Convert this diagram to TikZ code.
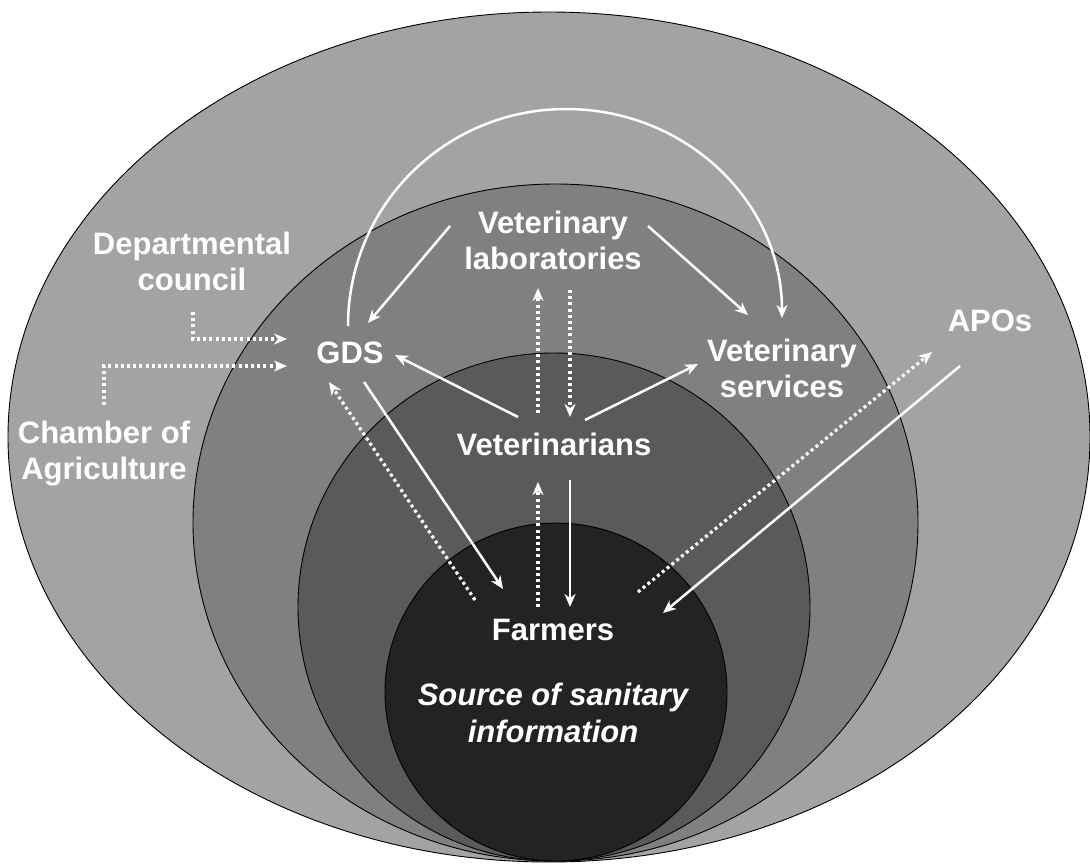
\documentclass[tikz,border=0pt]{standalone}
\usepackage{fontspec}
\setmainfont{Liberation Sans}
\usetikzlibrary{arrows.meta}
\definecolor{ringA}{RGB}{163,163,163}
\definecolor{ringB}{RGB}{128,128,128}
\definecolor{ringC}{RGB}{90,90,90}
\definecolor{ringD}{RGB}{35,35,35}
\begin{document}
\begin{tikzpicture}[x=1pt,y=-1pt,
  lbl/.style={text=white, font=\fontsize{31}{36}\selectfont\bfseries, align=center, inner sep=0pt},
  ring/.style={draw=black, line width=0.9pt},
  solidarr/.style={draw=white, line width=2.5pt, -{Stealth[length=13pt,width=11pt,inset=4pt]}},
  dotarr/.style={draw=white, line width=3.2pt, dash pattern=on 3pt off 3.2pt, -{Stealth[length=13pt,width=11pt,inset=4pt]}}]
\useasboundingbox (0,0) rectangle (1090,863);
% rings
\filldraw[ring, fill=ringA] (549,437) ellipse [x radius=541pt, y radius=425pt];
\filldraw[ring, fill=ringB] (555.5,522.5) ellipse [x radius=362.5pt, y radius=338.5pt];
\filldraw[ring, fill=ringC] (554,607) ellipse [x radius=256pt, y radius=254pt];
\filldraw[ring, fill=ringD] (556,692) ellipse [x radius=171pt, y radius=169pt];
% labels
\node[lbl] (labs) at (553,240) {Veterinary\\laboratories};
\node[lbl] (dept) at (192,261) {Departmental\\council};
\node[lbl] (gds) at (350,353) {GDS};
\node[lbl] (serv) at (782,368) {Veterinary\\services};
\node[lbl] (apos) at (990,321) {APOs};
\node[lbl] (chamber) at (104,454) {Chamber of\\Agriculture};
\node[lbl] (vets) at (554,444) {Veterinarians};
\node[lbl] (farmers) at (553,630) {Farmers};
\node[lbl, font=\fontsize{31}{37}\selectfont\bfseries\itshape] (source) at (553,713) {Source of sanitary\\information};
\coordinate (arctop) at (566,109);
% connectors
\draw[solidarr] ([shift={(-103,-14)}]labs.center) -- ([shift={(18,-30)}]gds.center);
\draw[solidarr] ([shift={(95,-14)}]labs.center) -- ([shift={(-34,-53)}]serv.center);
\draw[solidarr] ([shift={(-2,-27)}]gds.center) .. controls (348,205) and (446,109) .. (arctop)
   .. controls (686,109) and (782,202) .. ([shift={(0,-50)}]serv.center);
\draw[solidarr] ([shift={(-36,-27)}]vets.center) -- ([shift={(45,2)}]gds.center);
\draw[solidarr] ([shift={(31,-24)}]vets.center) -- ([shift={(-84,-4)}]serv.center);
\draw[dotarr] ([shift={(-16,-31)}]vets.center) -- ([shift={(-15,48)}]labs.center);
\draw[dotarr] ([shift={(17,50)}]labs.center) -- ([shift={(16,-27)}]vets.center);
\draw[solidarr] ([shift={(14,29)}]gds.center) -- ([shift={(-50,-41)}]farmers.center);
\draw[dotarr] ([shift={(-78,-30)}]farmers.center) -- ([shift={(-21,29)}]gds.center);
\draw[dotarr] ([shift={(-15,-23)}]farmers.center) -- ([shift={(-16,38)}]vets.center);
\draw[solidarr] ([shift={(16,36)}]vets.center) -- ([shift={(17,-23)}]farmers.center);
\draw[dotarr] ([shift={(85,-38)}]farmers.center) -- ([shift={(-58,31)}]apos.center);
\draw[solidarr] ([shift={(-30,45)}]apos.center) -- ([shift={(110,-17)}]farmers.center);
\draw[dotarr] ([shift={(1,51)}]dept.center) |- ([shift={(-63,-14)}]gds.center);
\draw[dotarr] ([shift={(0,-49)}]chamber.center) |- ([shift={(-63,13)}]gds.center);
\end{tikzpicture}
\end{document}
